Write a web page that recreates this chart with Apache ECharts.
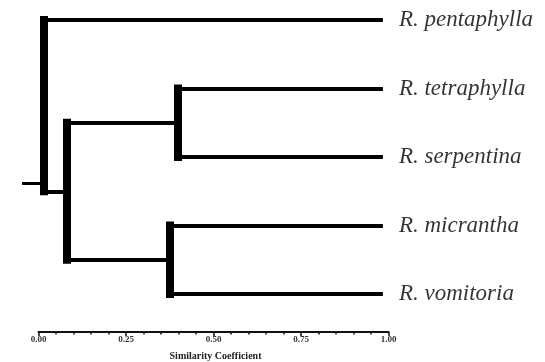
<!DOCTYPE html>
<html><head><meta charset="utf-8">
<script src="https://cdn.jsdelivr.net/npm/echarts@6/dist/echarts.min.js"></script>
<style>html,body{margin:0;padding:0;background:#fff}#c{width:545px;height:362px}</style>
</head><body><div id="c"></div>
<script>
// ---- data ----
const leaves = ['R. pentaphylla', 'R. tetraphylla', 'R. serpentina', 'R. micrantha', 'R. vomitoria'];
const leafEnd = 0.984;               // where leaf branches end (similarity scale)
// merges: [childA, childB, similarity]; children 'L#' leaf index, 'N#' merge index
const merges = [
  ['L1', 'L2', 0.399],
  ['L3', 'L4', 0.376],
  ['N0', 'N1', 0.081],
  ['L0', 'N2', 0.016]
];
const rootStub = { from: -0.047, y: 2.38 };
const axisTicks = [0, 0.25, 0.5, 0.75, 1.0];
const axisTitle = 'Similarity Coefficient';

// ---- layout ----
const W = 545, H = 362;
const axX0 = 38.5, axX1 = 388.5, axY = 332;
const leafY0 = 20, leafStep = 68.5;
const pxPerUnit = axX1 - axX0;

// build segments
const pos = {};
leaves.forEach((n, i) => { pos['L' + i] = { x: leafEnd, y: i }; });
const segs = [];
merges.forEach((m, k) => {
  const a = pos[m[0]], b = pos[m[1]], s = m[2];
  segs.push({ coords: [[s, a.y], [a.x, a.y]], lineStyle: { width: 4 } });
  segs.push({ coords: [[s, b.y], [b.x, b.y]], lineStyle: { width: 4 } });
  segs.push({ coords: [[s, a.y], [s, b.y]], lineStyle: { width: 8, cap: 'square' } });
  pos['N' + k] = { x: s, y: (a.y + b.y) / 2 };
});
const root = pos['N' + (merges.length - 1)];
segs.push({ coords: [[rootStub.from, rootStub.y], [root.x, rootStub.y]], lineStyle: { width: 3 } });

const chart = echarts.init(document.getElementById('c'), null, { renderer: 'canvas' });
chart.setOption({
  backgroundColor: '#fff',
  animation: false,
  grid: [
    { left: 0, top: 0, width: W, height: H },
    { left: axX0, width: pxPerUnit, top: axY - 30, height: 30 }
  ],
  xAxis: [
    { gridIndex: 0, type: 'value', show: false,
      min: -axX0 / pxPerUnit, max: (W - axX0) / pxPerUnit },
    { gridIndex: 1, type: 'value', min: 0, max: 1, interval: 0.25,
      axisLine: { lineStyle: { color: '#111', width: 2 } },
      axisTick: { show: true, length: 4, lineStyle: { color: '#111', width: 1.5 } },
      minorTick: { show: true, splitNumber: 5, length: 2.5, lineStyle: { color: '#111', width: 1.5 } },
      splitLine: { show: false },
      axisLabel: { margin: 3, fontFamily: 'Liberation Serif', fontWeight: 'bold', fontSize: 9, color: '#333',
        formatter: v => axisTicks.includes(v) ? v.toFixed(2) : '' },
      name: axisTitle, nameLocation: 'middle', nameGap: 19,
      nameTextStyle: { fontFamily: 'Liberation Serif', fontWeight: 'bold', fontSize: 10, color: '#222', padding: [0, 0, 0, 4] }
    }
  ],
  yAxis: [
    { gridIndex: 0, type: 'value', show: false, inverse: true,
      min: -leafY0 / leafStep, max: (H - leafY0) / leafStep },
    { gridIndex: 1, type: 'value', show: false }
  ],
  series: [
    { type: 'lines', coordinateSystem: 'cartesian2d', xAxisIndex: 0, yAxisIndex: 0,
      polyline: false, silent: true,
      lineStyle: { color: '#000', opacity: 1, curveness: 0 },
      data: segs },
    { type: 'scatter', xAxisIndex: 0, yAxisIndex: 0, symbolSize: 0, silent: true,
      data: leaves.map((n, i) => ({ value: [leafEnd, i], name: n })),
      label: { show: true, position: 'right', distance: 16, formatter: p => p.name,
        fontFamily: 'Liberation Serif', fontStyle: 'italic', fontSize: 23, color: '#000' } }
  ]
});
</script></body></html>
